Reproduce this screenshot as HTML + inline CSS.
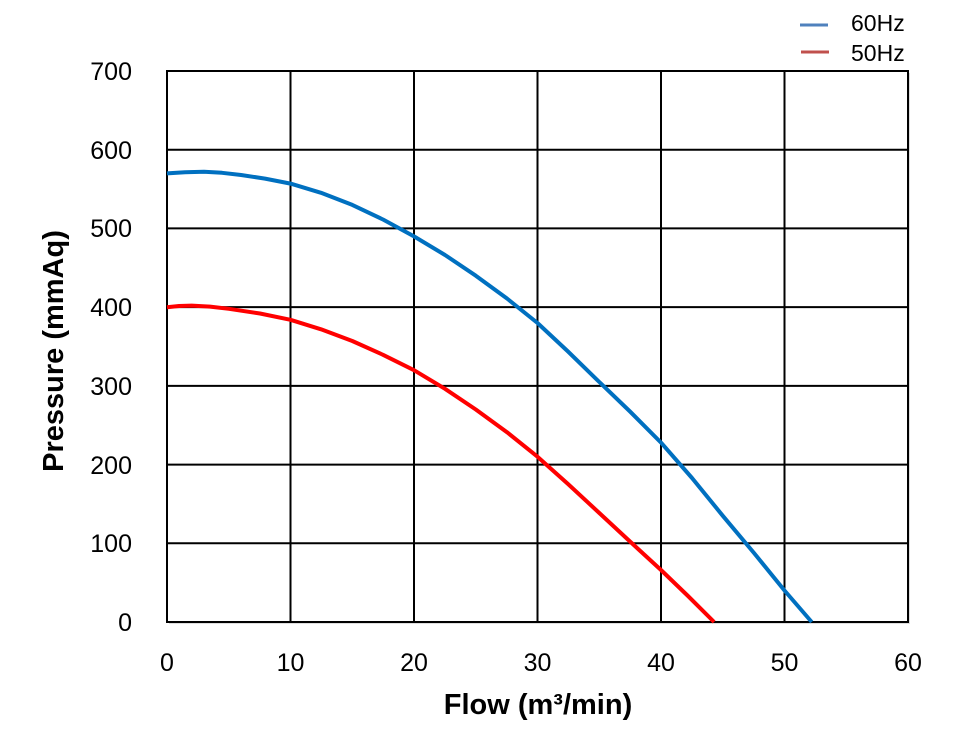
<!DOCTYPE html>
<html><head><meta charset="utf-8"><style>body{margin:0;background:#fff}</style></head><body>
<svg width="970" height="726" xmlns="http://www.w3.org/2000/svg" font-family="Liberation Sans, sans-serif">
<rect x="0" y="0" width="970" height="726" fill="#fff"/>
<rect x="169" y="73" width="741" height="551" fill="#bbb" opacity="0.5"/>
<rect x="167" y="71" width="741" height="551" fill="#fff" stroke="#000" stroke-width="2"/>
<g stroke="#000" stroke-width="2">
<line x1="290.5" y1="71" x2="290.5" y2="622"/><line x1="414" y1="71" x2="414" y2="622"/>
<line x1="537.5" y1="71" x2="537.5" y2="622"/><line x1="661" y1="71" x2="661" y2="622"/>
<line x1="784.5" y1="71" x2="784.5" y2="622"/>
<line x1="167" y1="149.7" x2="908" y2="149.7"/><line x1="167" y1="228.4" x2="908" y2="228.4"/>
<line x1="167" y1="307.1" x2="908" y2="307.1"/><line x1="167" y1="385.9" x2="908" y2="385.9"/>
<line x1="167" y1="464.6" x2="908" y2="464.6"/><line x1="167" y1="543.3" x2="908" y2="543.3"/>
</g>
<polyline fill="none" stroke="#0070c0" stroke-width="4" stroke-linejoin="round" points="167,173.4 185,172.2 204,171.8 222,172.8 241.1,175 265,178.6 290.5,183.6 321,192.8 352.3,204.9 383,219.5 414,236.4 445,255 475.8,275.7 507,298.5 537.5,323 568,351.5 599.3,382 630,411.5 661,442.6 692,478 722.8,515.8 754,553 784.5,590.5 811.7,622"/>
<polyline fill="none" stroke="#ff0000" stroke-width="4" stroke-linejoin="round" points="167,307.2 179,306 191.7,305.6 210,306.6 228.8,308.8 260,313.5 290.5,319.8 321,329.3 352.3,341 383,354.8 414,370.2 445,388.8 475.8,409.5 507,432.2 537.5,456.7 568,484 599.3,513 630,541.5 661,570 688,596 714.1,622"/>
<g font-size="25" fill="#000" text-anchor="end">
<text x="132" y="80">700</text><text x="132" y="159">600</text><text x="132" y="237">500</text>
<text x="132" y="316">400</text><text x="132" y="395">300</text><text x="132" y="474">200</text>
<text x="132" y="552">100</text><text x="132" y="631">0</text>
</g>
<g font-size="25" fill="#000" text-anchor="middle">
<text x="167" y="671">0</text><text x="290.5" y="671">10</text><text x="414" y="671">20</text>
<text x="537.5" y="671">30</text><text x="661" y="671">40</text><text x="784.5" y="671">50</text><text x="908" y="671">60</text>
</g>
<text x="538" y="714" font-size="29" font-weight="bold" text-anchor="middle">Flow (m³/min)</text>
<text transform="translate(63,351) rotate(-90)" font-size="29" font-weight="bold" text-anchor="middle">Pressure (mmAq)</text>
<line x1="800" y1="25" x2="828" y2="25" stroke="#4f81bd" stroke-width="3"/>
<line x1="801" y1="52" x2="829" y2="52" stroke="#c0504d" stroke-width="3"/>
<text x="851" y="31" font-size="23">60Hz</text>
<text x="851" y="61" font-size="23">50Hz</text>
</svg>
</body></html>
